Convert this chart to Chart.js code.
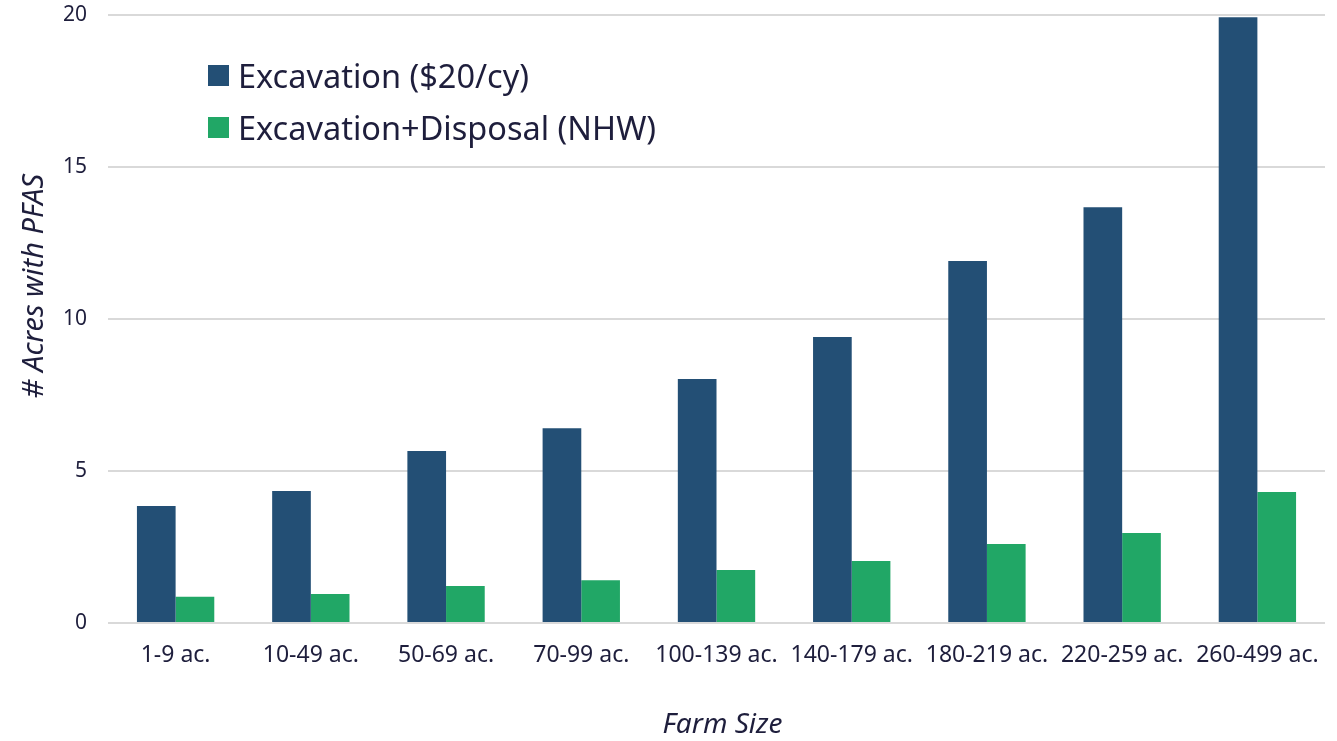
<!DOCTYPE html>
<html>
<head>
<meta charset="utf-8">
<script src="https://cdn.jsdelivr.net/npm/chart.js@4"></script>
<style>
    html, body { margin: 0; padding: 0; background: #fff; }
    .wrap { position: relative; width: 1337px; height: 741px; }
    #legend { position: absolute; left: 208px; top: 49px; font-family: 'Noto Sans', sans-serif; font-size: 32.5px; color: #1e1e3c; }
    #legend div { display: flex; align-items: center; height: 52px; white-space: nowrap; }
    #legend span.box { display: inline-block; width: 21px; height: 21px; margin-right: 9px; }
</style>
</head>
<body>
<div class="wrap">
    <canvas id="farmChart" width="1337" height="741"></canvas>
    <div id="legend"></div>
</div>
<script>
const categories = ['1-9 ac.', '10-49 ac.', '50-69 ac.', '70-99 ac.', '100-139 ac.', '140-179 ac.', '180-219 ac.', '220-259 ac.', '260-499 ac.'];
const excavation = [3.85, 4.34, 5.66, 6.41, 8.03, 9.41, 11.91, 13.68, 19.93];
const excavationDisposal = [0.86, 0.95, 1.22, 1.41, 1.74, 2.04, 2.60, 2.96, 4.31];
const seriesNames = ['Excavation ($20/cy)', 'Excavation+Disposal (NHW)'];
const seriesColors = ['#234f75', '#21a766'];
const yTicks = [0, 5, 10, 15, 20];
const yTitle = '# Acres with PFAS';
const xTitle = 'Farm Size';

const textColor = '#1e1e3c';
const gridColor = '#d9d9d9';

// axis titles drawn by hand so they can sit slightly off-centre like the original
const axisTitlePlugin = {
    id: 'axisTitles',
    afterDraw(chart) {
        const c = chart.ctx;
        const area = chart.chartArea;
        c.save();
        c.fillStyle = textColor;
        c.textAlign = 'center';
        c.textBaseline = 'middle';

        c.font = 'italic 28px "Noto Sans"';
        c.fillText(xTitle, (area.left + area.right) / 2 + 6, 725);

        c.translate(35, (area.top + area.bottom) / 2 - 33);
        c.rotate(-Math.PI / 2);
        c.font = 'italic 29px "Noto Sans"';
        c.fillText(yTitle, 0, 0);
        c.restore();
    }
};

document.addEventListener('DOMContentLoaded', function() {
    const ctx = document.getElementById('farmChart').getContext('2d');
    const chart = new Chart(ctx, {
        type: 'bar',
        data: {
            labels: categories,
            datasets: [{
                label: seriesNames[0],
                data: excavation,
                backgroundColor: seriesColors[0],
                categoryPercentage: 0.572,
                barPercentage: 1.0
            }, {
                label: seriesNames[1],
                data: excavationDisposal,
                backgroundColor: seriesColors[1],
                categoryPercentage: 0.572,
                barPercentage: 1.0
            }]
        },
        options: {
            responsive: false,
            animation: false,
            layout: { padding: { top: 15, right: 12, left: 0, bottom: 0 } },
            plugins: {
                legend: { display: false },
                tooltip: { enabled: false }
            },
            scales: {
                y: {
                    min: 0,
                    max: 20,
                    afterBuildTicks: function(scale) {
                        scale.ticks = yTicks.map(v => ({ value: v }));
                    },
                    afterFit: function(scale) {
                        scale.width = 108;
                        scale.paddingTop = 0;
                        scale.paddingBottom = 0;
                    },
                    border: { display: false },
                    grid: { color: gridColor, lineWidth: 2, drawTicks: false },
                    ticks: {
                        padding: 21,
                        color: textColor,
                        font: { family: 'Noto Sans', size: 21 }
                    }
                },
                x: {
                    afterFit: function(scale) {
                        scale.height = 118;
                        scale.paddingLeft = 0;
                        scale.paddingRight = 0;
                    },
                    border: { display: false },
                    grid: { display: false, drawTicks: false },
                    ticks: {
                        padding: 19,
                        color: textColor,
                        maxRotation: 0,
                        autoSkip: false,
                        font: { family: 'Noto Sans', size: 23 }
                    }
                }
            }
        },
        plugins: [axisTitlePlugin]
    });

    // HTML legend built from the datasets
    const legend = document.getElementById('legend');
    chart.data.datasets.forEach(ds => {
        const row = document.createElement('div');
        const box = document.createElement('span');
        box.className = 'box';
        box.style.background = ds.backgroundColor;
        row.appendChild(box);
        row.appendChild(document.createTextNode(ds.label));
        legend.appendChild(row);
    });
});
</script>
</body>
</html>
